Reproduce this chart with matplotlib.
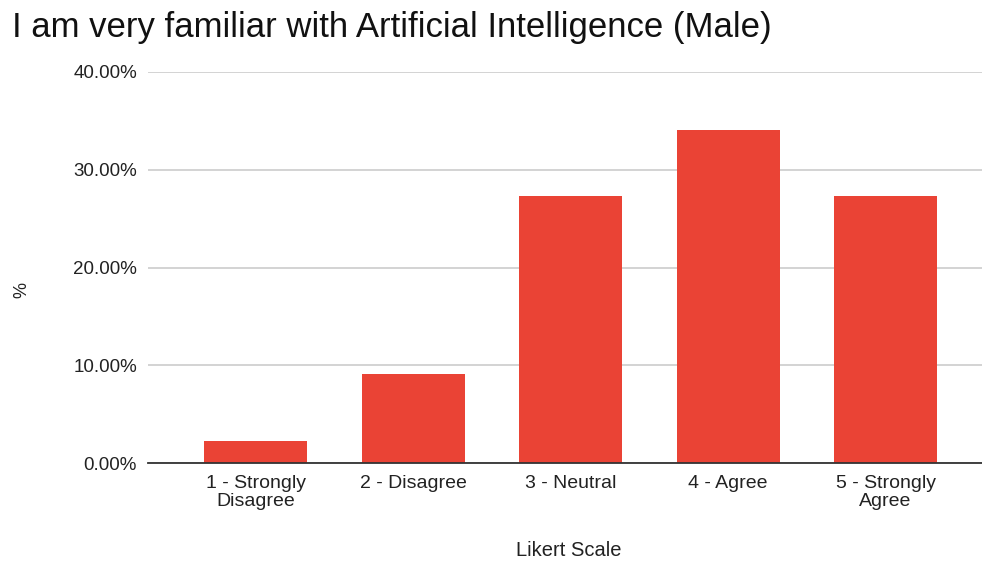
import matplotlib
matplotlib.use('Agg')
import matplotlib.pyplot as plt
from matplotlib.ticker import PercentFormatter

plt.rcParams['font.family'] = ['Liberation Sans', 'DejaVu Sans']

# Likert responses (share of male respondents)
categories = ['1 - Strongly\nDisagree', '2 - Disagree', '3 - Neutral',
              '4 - Agree', '5 - Strongly\nAgree']
shares = [0.0227, 0.0909, 0.2727, 0.3409, 0.2727]
yticks = [0.0, 0.1, 0.2, 0.3, 0.4]

fig = plt.figure(figsize=(9.82, 5.65), dpi=100)
ax = fig.add_axes([148/982, 1 - 463/565, 834/982, (463 - 72)/565])

x = list(range(len(categories)))
ax.bar(x, shares, width=0.654, color='#EA4335', zorder=3)

ax.set_xlim(-0.683, 4.612)
ax.set_ylim(0, 0.4)
ax.set_yticks(yticks)
ax.yaxis.set_major_formatter(PercentFormatter(1.0, decimals=2))
ax.set_xticks(x)
ax.set_xticklabels(categories, fontsize=14, color='#222222', linespacing=1.05)
ax.tick_params(axis='y', labelsize=13.5, labelcolor='#222222', length=0, pad=8)
ax.tick_params(axis='x', length=0, pad=9)

ax.grid(axis='y', color='#cccccc', linewidth=1.2, zorder=0)
for s in ('top', 'right', 'left'):
    ax.spines[s].set_visible(False)
ax.spines['bottom'].set_color('#333333')
ax.spines['bottom'].set_linewidth(1.3)
ax.spines['bottom'].set_zorder(4)

fig.text(22/982, 1 - 290/565, '%', rotation=90, fontsize=13,
         color='#222222', ha='center', va='center')
fig.text(569/982, 1 - 550/565, 'Likert Scale', fontsize=14.5,
         color='#222222', ha='center', va='center')
fig.text(12/982, 1 - 28/565, 'I am very familiar with Artificial Intelligence (Male)',
         fontsize=25, color='#111111', ha='left', va='center')

fig.savefig('out.png', dpi=100, facecolor='white')
